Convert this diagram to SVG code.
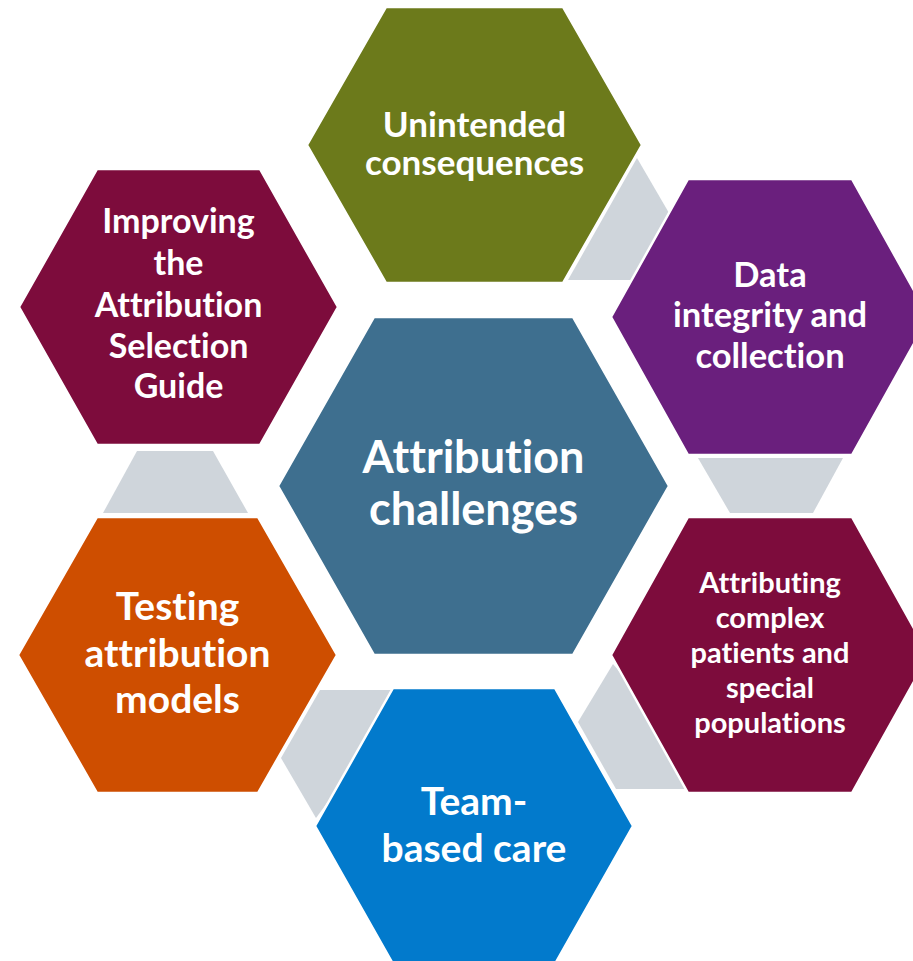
<svg xmlns="http://www.w3.org/2000/svg" width="913" height="961" viewBox="0 0 913 961">
  <style>
    .hex { stroke: #ffffff; stroke-width: 2.5; stroke-linejoin: miter; }
    .link { fill: #CFD5DB; }
    .lbl { font-family: Lato, "Open Sans", "Liberation Sans", sans-serif; font-weight: bold; fill: #ffffff; text-anchor: middle; font-variant-ligatures: none; font-feature-settings: "liga" 0, "clig" 0; }
  </style>
  <rect width="913" height="961" fill="#ffffff"/>

  <!-- grey trapezoid links, drawn underneath the hexagons -->
  <g id="connectors">
    <polygon class="link" points="568,280 637,158 708,280"/>
    <polygon class="link" points="698,458 843,458 813,513 730,513"/>
    <polygon class="link" points="613,664 578,722 616,789 720,789"/>
    <polygon class="link" points="320,690 410,690 316,818 281,758"/>
    <polygon class="link" points="137,451 213,451 248,513 103,513"/>
  </g>

  <g id="unintended">
    <polygon class="hex" fill="#6C7A1B" points="386,7 563,7 642,145 563,283 386,283 307,145"/>
    <text class="lbl" font-size="35" x="474.5" y="137">Unintended</text>
    <text class="lbl" font-size="35" x="474.5" y="175">consequences</text>
  </g>

  <g id="data-integrity">
    <polygon class="hex" fill="#6A1F7D" points="688,179 852,179 929,317 852,455 688,455 611,317"/>
    <text class="lbl" font-size="34.5" x="770" y="287">Data</text>
    <text class="lbl" font-size="34.5" x="770" y="327">integrity and</text>
    <text class="lbl" font-size="34.5" x="770" y="368">collection</text>
  </g>

  <g id="complex-patients">
    <polygon class="hex" fill="#7D0C3C" points="688,517 852,517 929,655 852,793 688,793 611,655"/>
    <text class="lbl" font-size="29" x="770" y="593">Attributing</text>
    <text class="lbl" font-size="29" x="770" y="628">complex</text>
    <text class="lbl" font-size="29" x="770" y="663">patients and</text>
    <text class="lbl" font-size="29" x="770" y="698">special</text>
    <text class="lbl" font-size="29" x="770" y="733">populations</text>
  </g>

  <g id="team-care">
    <polygon class="hex" fill="#027ACC" points="393,688 555,688 633,826 555,964 393,964 315,826"/>
    <text class="lbl" font-size="39" x="474" y="815">Team-</text>
    <text class="lbl" font-size="39" x="474" y="862">based care</text>
  </g>

  <g id="testing-models">
    <polygon class="hex" fill="#CE4E00" points="97,517 258,517 337,655 258,793 97,793 18,655"/>
    <text class="lbl" font-size="39" x="177.5" y="620">Testing</text>
    <text class="lbl" font-size="39" x="177.5" y="667">attribution</text>
    <text class="lbl" font-size="39" x="177.5" y="713">models</text>
  </g>

  <g id="selection-guide">
    <polygon class="hex" fill="#7D0C3C" points="97,169 260,169 338,307 260,445 97,445 19,307"/>
    <text class="lbl" font-size="34" x="178.5" y="233">Improving</text>
    <text class="lbl" font-size="34" x="178.5" y="275">the</text>
    <text class="lbl" font-size="34" x="178.5" y="317">Attribution</text>
    <text class="lbl" font-size="34" x="178.5" y="358">Selection</text>
    <text class="lbl" font-size="34" x="178.5" y="398">Guide</text>
  </g>

  <g id="attribution-challenges">
    <polygon class="hex" fill="#3E6F8F" points="374,317 573,317 669,486 573,655 374,655 278,486"/>
    <text class="lbl" font-size="45" x="473.5" y="473">Attribution</text>
    <text class="lbl" font-size="45" x="473.5" y="525">challenges</text>
  </g>
</svg>
